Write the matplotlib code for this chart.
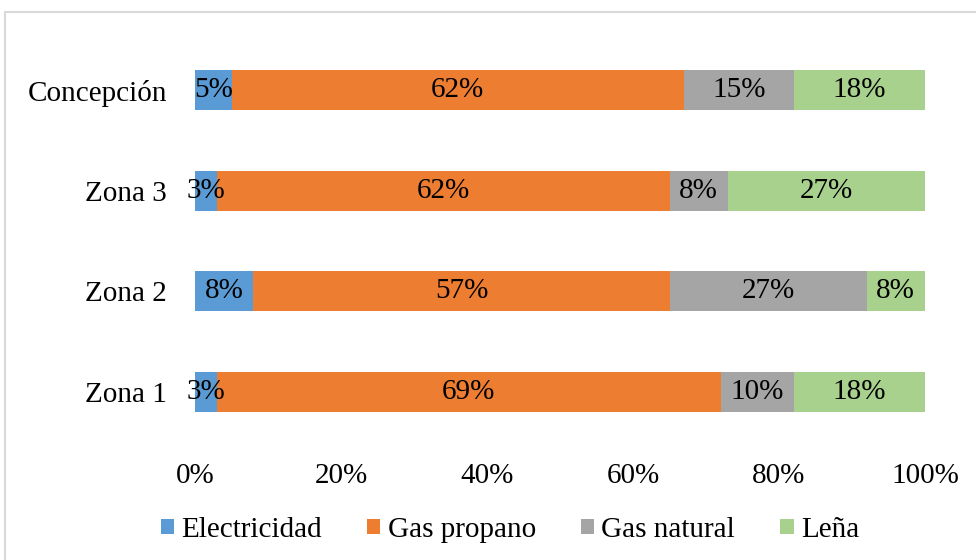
import matplotlib
matplotlib.use("Agg")
import matplotlib.pyplot as plt
from matplotlib.patches import Rectangle
from matplotlib.ticker import PercentFormatter
import numpy as np

plt.rcParams['font.family'] = ['Liberation Serif', 'DejaVu Serif']

# data (shares per zone, bottom to top)
zonas = ['Zona 1', 'Zona 2', 'Zona 3', 'Concepción']
electricidad = [3, 8, 3, 5]
gas_propano = [69, 57, 62, 62]
gas_natural = [10, 27, 8, 15]
lena = [18, 8, 27, 18]

series = ['Electricidad', 'Gas propano', 'Gas natural', 'Leña']
colores = ['#5B9BD5', '#ED7D31', '#A5A5A5', '#A9D18E']

fig = plt.figure(figsize=(9.76, 5.6), dpi=100)
ax = fig.add_axes([195/976, 1-442/560, 730/976, 402/560])

# faint frame around the chart
fig.patches.append(Rectangle((5/976, -0.1), 1.2, 1.1-12/560, transform=fig.transFigure,
                             fill=False, edgecolor='#d9d9d9', linewidth=1.5))

y = np.arange(len(zonas))
left = np.zeros(len(zonas))
for nombre, vals, c in zip(series, [electricidad, gas_propano, gas_natural, lena], colores):
    vals = np.array(vals, dtype=float) / 100
    bars = ax.barh(y, vals, left=left, height=0.4, color=c, label=nombre)
    ax.bar_label(bars, labels=[f'{v*100:.0f}%' for v in vals], label_type='center',
                 fontsize=21, color='black')
    left += vals

ax.set_xlim(0, 1)
ax.set_ylim(-0.5, 3.5)
ax.set_xticks(np.linspace(0, 1, 6))
ax.xaxis.set_major_formatter(PercentFormatter(1.0, decimals=0))
ax.set_yticks(y)
ax.set_yticklabels(zonas)
ax.tick_params(axis='y', length=0, pad=20, labelsize=21)
ax.tick_params(axis='x', length=0, pad=15, labelsize=21)
for s in ax.spines.values():
    s.set_visible(False)

fig.legend(loc='center', bbox_to_anchor=(510/976, 1-530/560), ncol=4, frameon=False,
           fontsize=21, handlelength=0.45, handleheight=0.45, handletextpad=0.25,
           columnspacing=1.55)

fig.savefig('out.png', dpi=100)
